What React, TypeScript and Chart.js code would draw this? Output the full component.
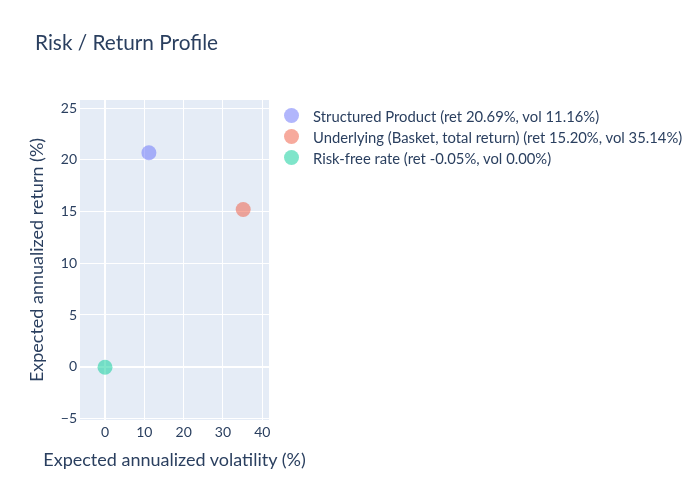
import { useEffect, useRef } from 'react';
import Chart from 'chart.js/auto';

// values
const seriesNames = [
  'Structured Product (ret 20.69%, vol 11.16%)',
  'Underlying (Basket, total return) (ret 15.20%, vol 35.14%)',
  'Risk-free rate (ret -0.05%, vol 0.00%)',
];
const volatility = [11.16, 35.14, 0.0];
const returns = [20.69, 15.2, -0.05];
const seriesColors = ['rgba(99,110,250,0.5)', 'rgba(239,85,59,0.5)', 'rgba(0,204,150,0.5)'];

const FONT = 'Lato, "Noto Sans", sans-serif';
const INK = '#2a3f5f';

const plotBackground = {
  id: 'plotBackground',
  beforeDraw(chart: Chart) {
    const { ctx, chartArea } = chart;
    ctx.save();
    ctx.fillStyle = '#E5ECF6';
    ctx.fillRect(chartArea.left, chartArea.top, chartArea.right - chartArea.left, chartArea.bottom - chartArea.top);
    ctx.restore();
  },
};

const RiskReturnChart = () => {
  const chartRef = useRef<HTMLCanvasElement>(null);
  const chartInstance = useRef<Chart | null>(null);

  useEffect(() => {
    document.body.style.margin = '0';
    if (chartInstance.current) {
      chartInstance.current.destroy();
    }

    const datasets = seriesNames.map((name, i) => ({
      label: name,
      data: [{ x: volatility[i], y: returns[i] }],
      backgroundColor: seriesColors[i],
      borderWidth: 0,
      pointRadius: 7.5,
      pointHoverRadius: 7.5,
    }));

    // plotly-style zero lines are a bit heavier
    const gridWidth = (c: any) => (c.tick && c.tick.value === 0 ? 2 : 1);

    if (chartRef.current) {
      const ctx = chartRef.current.getContext('2d');
      if (ctx) {
        chartInstance.current = new Chart(ctx, {
          type: 'scatter',
          data: { datasets },
          plugins: [plotBackground],
          options: {
            responsive: false,
            animation: false,
            layout: { padding: { left: 0, top: 100, right: 431, bottom: 0 } },
            plugins: {
              legend: { display: false },
              tooltip: { enabled: false },
            },
            scales: {
              x: {
                min: -6.36,
                max: 41.7,
                afterFit: (s: any) => { s.height = 80; },
                border: { display: false },
                grid: { color: '#ffffff', lineWidth: gridWidth, drawTicks: false },
                ticks: {
                  stepSize: 10,
                  includeBounds: false,
                  padding: 4,
                  color: INK,
                  font: { family: FONT, size: 14 },
                },
              },
              y: {
                min: -5.16,
                max: 25.8,
                afterFit: (s: any) => { s.width = 80; },
                border: { display: false },
                grid: { color: '#ffffff', lineWidth: gridWidth, drawTicks: false },
                ticks: {
                  stepSize: 5,
                  includeBounds: false,
                  padding: 3,
                  color: INK,
                  font: { family: FONT, size: 14 },
                  callback: (v: any) => (Number(v) < 0 ? '\u2212' + Math.abs(Number(v)) : String(v)),
                },
                title: {
                  display: true,
                  text: 'Expected annualized return (%)',
                  color: INK,
                  font: { family: FONT, size: 18 },
                  padding: { top: 26, bottom: 26 },
                },
              },
            },
          },
        });
      }
    }

    return () => {
      if (chartInstance.current) {
        chartInstance.current.destroy();
      }
    };
  }, []);

  return (
    <div style={{ position: 'relative', width: 700, height: 500, background: '#fff', fontFamily: FONT, color: INK }}>
      <canvas ref={chartRef} width={700} height={500} style={{ position: 'absolute', left: 0, top: 0 }}></canvas>
      <div style={{ position: 'absolute', left: 35, top: 29, fontSize: 20.8, lineHeight: '26px', whiteSpace: 'nowrap' }}>
        Risk / Return Profile
      </div>
      {/* x axis title is wider than the plot, so it sits outside the canvas scale */}
      <div
        style={{
          position: 'absolute',
          left: 174.5,
          top: 448,
          transform: 'translateX(-50%)',
          fontSize: 18,
          lineHeight: '22px',
          whiteSpace: 'nowrap',
        }}
      >
        Expected annualized volatility (%)
      </div>
      <div style={{ position: 'absolute', left: 284, top: 105 }}>
        {seriesNames.map((name, i) => (
          <div key={name} style={{ display: 'flex', alignItems: 'center', height: 21, whiteSpace: 'nowrap' }}>
            <span
              style={{
                width: 15,
                height: 15,
                borderRadius: '50%',
                backgroundColor: seriesColors[i],
                marginRight: 14,
              }}
            ></span>
            <span style={{ fontSize: 14.8 }}>{name}</span>
          </div>
        ))}
      </div>
    </div>
  );
};

export default function App() {
  return <RiskReturnChart />;
}
